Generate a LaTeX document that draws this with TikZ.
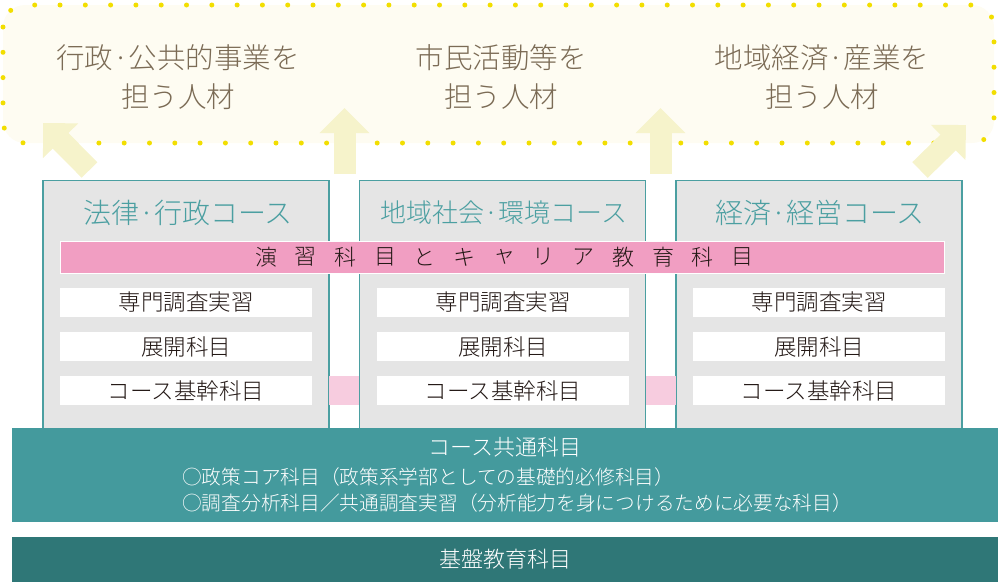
\documentclass[tikz,border=0pt]{standalone}
\usepackage{fontspec}
\setmainfont{Noto Sans CJK JP}[UprightFont=* Light]
\usetikzlibrary{arrows.meta}
\definecolor{cloudfill}{HTML}{FEFCF2}
\definecolor{dotyellow}{HTML}{F2DE00}
\definecolor{arrowfill}{HTML}{F6F3CB}
\definecolor{goaltext}{HTML}{7B6B55}
\definecolor{coursefill}{HTML}{E5E5E5}
\definecolor{courseline}{HTML}{4B9FA1}
\definecolor{bandpink}{HTML}{F19EC2}
\definecolor{linkpink}{HTML}{F7CCDF}
\definecolor{subjtext}{HTML}{231815}
\definecolor{commonteal}{HTML}{449A9D}
\definecolor{baseteal}{HTML}{2F7777}

\begin{document}
\begin{tikzpicture}[x=1pt,y=-1pt,
    dots/.style={draw=dotyellow,line width=5pt,line cap=round,dash pattern=on 0pt off 25.3pt},
    goal/.style={align=center,text=goaltext,font=\fontsize{28.5}{39}\selectfont},
    uparrow/.style={draw=arrowfill,line width=22pt,-{Triangle[length=25pt,width=48pt]}},
    course/.style={draw=courseline,fill=coursefill,line width=1.2pt,minimum width=286pt,minimum height=252pt,anchor=north},
    ctitle/.style={text=courseline,font=\fontsize{28}{30}\selectfont},
    subj/.style={fill=white,minimum width=252pt,minimum height=29pt,inner sep=0pt,text=subjtext,font=\fontsize{22.5}{24}\selectfont},
    wide/.style={minimum width=986pt,inner sep=0pt,text=white}]
    \useasboundingbox (0,0) rectangle (1000,582);
    % goals
    \fill[cloudfill,rounded corners=22pt] (3,5) rectangle (994,143);
    \draw[dots,rounded corners=22pt] (3,5) rectangle (994,143);
    \node[goal] (goalA) at (178,77) {行政·公共的事業を\\担う人材};
    \node[goal] (goalB) at (501,77) {市民活動等を\\担う人材};
    \node[goal] (goalC) at (822,77) {地域経済·産業を\\担う人材};
    \coordinate (fromA) at (89.5,170);  \coordinate (toA) at (43,123);
    \coordinate (fromB) at (344.5,174); \coordinate (toB) at (344.5,108);
    \coordinate (fromC) at (660.5,174); \coordinate (toC) at (660.5,108);
    \coordinate (fromD) at (920,170);   \coordinate (toD) at (966,125);
    \foreach \a in {A,B,C,D}
        \draw[uparrow] (from\a) -- (to\a);
    % courses
    \node[course] (law) at (186,180) {};
    \node[course] (region) at (502.5,180) {};
    \node[course] (economy) at (819,180) {};
    \node[ctitle] (lawT) at (188,213) {法律·行政コース};
    \node[ctitle,font=\fontsize{26}{30}\selectfont] (regionT) at (504,213) {地域社会·環境コース};
    \node[ctitle] (economyT) at (820,213) {経済·経営コース};
    \fill[linkpink] (329,376) rectangle (359,405);
    \fill[linkpink] (646,376) rectangle (676,405);
    \node[draw=white,fill=bandpink,minimum width=884pt,minimum height=32pt,inner sep=0pt] (practice) at (502,257) {};
    \foreach \c [count=\i from 0] in {演,習,科,目,と,キ,ャ,リ,ア,教,育,科,目}
        \node[text=subjtext,font=\fontsize{22}{24}\selectfont] (practice\i) at (266+\i*39.7,257) {\c};
    \foreach \cx [count=\k] in {186,503,819} {
        \node[subj] (field\k) at (\cx,302.5) {専門調査実習};
        \node[subj] (adv\k) at (\cx,346.5) {展開科目};
        \node[subj] (core\k) at (\cx,390.5) {コース基幹科目};
    }
    % common and base
    \node[wide,fill=commonteal,minimum height=94pt] (common) at (505,475) {};
    \node[text=white,font=\fontsize{22}{24}\selectfont] (commonT) at (505,447) {コース共通科目};
    \node[text=white,anchor=west,inner sep=0pt,font=\fontsize{19.7}{22}\selectfont] (policy) at (182,477) {○政策コア科目（政策系学部としての基礎的必修科目）};
    \node[text=white,anchor=west,inner sep=0pt,font=\fontsize{19.7}{22}\selectfont] (survey) at (182,503) {○調査分析科目／共通調査実習（分析能力を身につけるために必要な科目）};
    \node[wide,fill=baseteal,minimum height=45pt,font=\fontsize{22}{24}\selectfont] (basic) at (505,559.5) {基盤教育科目};
\end{tikzpicture}
\end{document}
